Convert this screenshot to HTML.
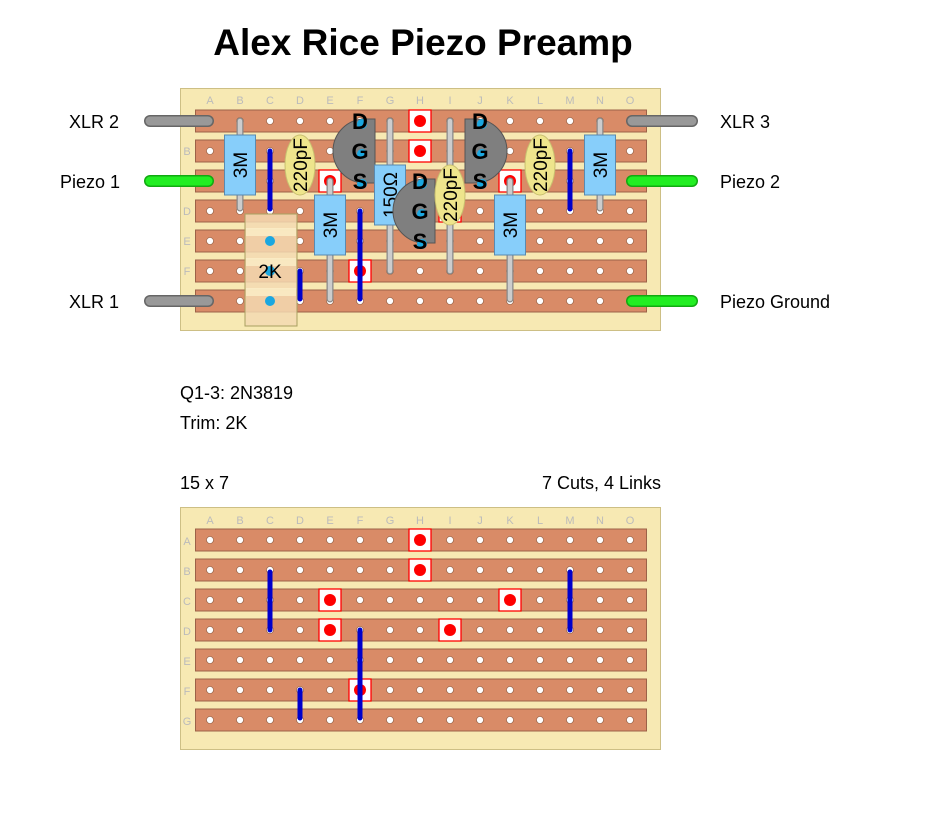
<!DOCTYPE html>
<html><head><meta charset="utf-8"><style>
body{margin:0;background:#fff;width:941px;height:824px;overflow:hidden}
svg{display:block;font-family:"Liberation Sans",sans-serif}
</style></head><body>
<svg id="s" width="941" height="824" viewBox="0 0 941 824">
<text x="423" y="55" text-anchor="middle" font-size="37" font-weight="bold">Alex Rice Piezo Preamp</text>
<g font-size="18" fill="#000">
<text x="119" y="128" text-anchor="end">XLR 2</text>
<text x="120" y="188" text-anchor="end">Piezo 1</text>
<text x="119" y="308" text-anchor="end">XLR 1</text>
<text x="720" y="128">XLR 3</text>
<text x="720" y="188">Piezo 2</text>
<text x="720" y="308">Piezo Ground</text>
<text x="180" y="399">Q1-3: 2N3819</text>
<text x="180" y="429">Trim: 2K</text>
<text x="180" y="489">15 x 7</text>
<text x="661" y="489" text-anchor="end">7 Cuts, 4 Links</text>
</g>
<g id="b1"></g>
<g id="b2"></g>
<g id="parts"></g>
<g font-size="11" fill="#bbb" text-anchor="middle" id="lbl1">
<text x="210" y="104">A</text><text x="240" y="104">B</text><text x="270" y="104">C</text><text x="300" y="104">D</text><text x="330" y="104">E</text><text x="360" y="104">F</text><text x="390" y="104">G</text><text x="420" y="104">H</text><text x="450" y="104">I</text><text x="480" y="104">J</text><text x="510" y="104">K</text><text x="540" y="104">L</text><text x="570" y="104">M</text><text x="600" y="104">N</text><text x="630" y="104">O</text>
<text x="187" y="155">B</text><text x="187" y="215">D</text><text x="187" y="245">E</text><text x="187" y="275">F</text>
</g>
<g font-size="11" fill="#bbb" text-anchor="middle">
<text x="210" y="524">A</text><text x="240" y="524">B</text><text x="270" y="524">C</text><text x="300" y="524">D</text><text x="330" y="524">E</text><text x="360" y="524">F</text><text x="390" y="524">G</text><text x="420" y="524">H</text><text x="450" y="524">I</text><text x="480" y="524">J</text><text x="510" y="524">K</text><text x="540" y="524">L</text><text x="570" y="524">M</text><text x="600" y="524">N</text><text x="630" y="524">O</text>
<text x="187" y="545">A</text><text x="187" y="575">B</text><text x="187" y="605">C</text><text x="187" y="635">D</text><text x="187" y="665">E</text><text x="187" y="695">F</text><text x="187" y="725">G</text>
</g>
</svg>
<script>
var NS="http://www.w3.org/2000/svg";
function el(p,t,a,txt){var e=document.createElementNS(NS,t);for(var k in a)e.setAttribute(k,a[k]);if(txt)e.textContent=txt;p.appendChild(e);return e;}
function board(g,y0){
 el(g,"rect",{x:180.5,y:y0+0.5,width:480,height:242,fill:"#f7e9b3",stroke:"#cdbf85"});
 for(var r=0;r<7;r++){var cy=y0+33+30*r;
  el(g,"rect",{x:195.5,y:cy-11,width:451,height:22,fill:"#d98b67",stroke:"#9c6248"});
  for(var c=0;c<15;c++)el(g,"circle",{cx:210+30*c,cy:cy,r:3.5,fill:"#fff",stroke:"#8a5a40","stroke-width":0.6});}
}
var b1=document.getElementById("b1"),b2=document.getElementById("b2");
board(b1,88);board(b2,507);
function cut(g,x,y){el(g,"rect",{x:x-11,y:y-11,width:22,height:22,fill:"#fff",stroke:"#f00","stroke-width":1.3});el(g,"circle",{cx:x,cy:y,r:6,fill:"#f00"});}
function link(g,x,y1,y2){el(g,"line",{x1:x,y1:y1,x2:x,y2:y2,stroke:"#0000cc","stroke-width":5,"stroke-linecap":"round"});}
[[420,540],[420,570],[330,600],[510,600],[330,630],[450,630],[360,690]].forEach(function(p){cut(b2,p[0],p[1]);});
link(b2,270,572,630);link(b2,570,572,630);link(b2,360,630,718);link(b2,300,690,718);
[[420,121],[420,151],[330,181],[510,181],[330,211],[450,211],[360,271]].forEach(function(p){cut(b1,p[0],p[1]);});
var P=document.getElementById("parts");
link(P,270,151,209);link(P,570,151,209);link(P,360,211,299);link(P,300,271,299);
function wire(x1,x2,y,c){el(P,"line",{x1:x1,y1:y,x2:x2,y2:y,stroke:c=="g"?"#11aa11":"#666","stroke-width":12,"stroke-linecap":"round"});
 el(P,"line",{x1:x1,y1:y,x2:x2,y2:y,stroke:c=="g"?"#22ee22":"#999","stroke-width":9,"stroke-linecap":"round"});}
wire(150,208,121);wire(150,208,181,"g");wire(150,208,301);
wire(632,692,121);wire(632,692,181,"g");wire(632,692,301,"g");
el(P,"rect",{x:245,y:214,width:52,height:112,fill:"#f3d9b2","fill-opacity":0.85,stroke:"#a8a060"});
[228,258,288].forEach(function(y){el(P,"rect",{x:246,y:y,width:50,height:8,fill:"#fbefc8","fill-opacity":0.8});});
[241,271,301].forEach(function(y){el(P,"circle",{cx:270,cy:y,r:5,fill:"#1aa7e0"});});
el(P,"text",{x:270,y:278,"text-anchor":"middle","font-size":19,"font-family":"Liberation Sans"},"2K");
function lead(x,y1,y2){el(P,"line",{x1:x,y1:y1,x2:x,y2:y2,stroke:"#888","stroke-width":7,"stroke-linecap":"round"});el(P,"line",{x1:x,y1:y1,x2:x,y2:y2,stroke:"#ccc","stroke-width":4.5,"stroke-linecap":"round"});}
function res(x,y1,y2,by,bh,t){lead(x,y1,y2);el(P,"rect",{x:x-15.5,y:by,width:31,height:bh,fill:"#87cefa",stroke:"#5a8ab0"});
 el(P,"text",{x:0,y:0,transform:"translate("+(x+7)+","+(by+bh/2)+") rotate(-90)","text-anchor":"middle","font-size":19,"font-family":"Liberation Sans"},t);}
function cap(x,cy,y1,y2){if(y1)lead(x,y1,y2);el(P,"ellipse",{cx:x,cy:cy,rx:15,ry:30,fill:"#eee58c",stroke:"#c8bf70"});
 el(P,"text",{x:0,y:0,transform:"translate("+(x+7)+","+cy+") rotate(-90)","text-anchor":"middle","font-size":19,"font-family":"Liberation Sans"},"220pF");}
function tr(x,y,flatRight){
 var d=flatRight?"M"+(x+15)+" "+(y-32)+" L"+(x+5)+" "+(y-32)+" A31 31 0 0 0 "+(x+5)+" "+(y+32)+" L"+(x+15)+" "+(y+32)+" Z"
  :"M"+(x-15)+" "+(y-32)+" L"+(x-5)+" "+(y-32)+" A31 31 0 0 1 "+(x-5)+" "+(y+32)+" L"+(x-15)+" "+(y+32)+" Z";
 el(P,"path",{d:d,fill:"#7f7f7f",stroke:"#555"});
 ["D","G","S"].forEach(function(t,i){var yy=y-30+30*i;el(P,"circle",{cx:x+2,cy:yy+3,r:5,fill:"#1aa7e0"});
  el(P,"text",{x:x,y:yy+8,"text-anchor":"middle","font-size":22,"font-weight":"bold","font-family":"Liberation Sans"},t);});
}
res(240,121,208,135,60,"3M");
cap(300,165);
tr(360,151,true);
res(330,181,299,195,60,"3M");
res(390,121,271,165,60,"150Ω");
tr(420,211,true);
cap(450,195,121,271);
tr(480,151,false);
res(510,181,299,195,60,"3M");
cap(540,165);
res(600,121,208,135,60,"3M");
</script>
</body></html>
